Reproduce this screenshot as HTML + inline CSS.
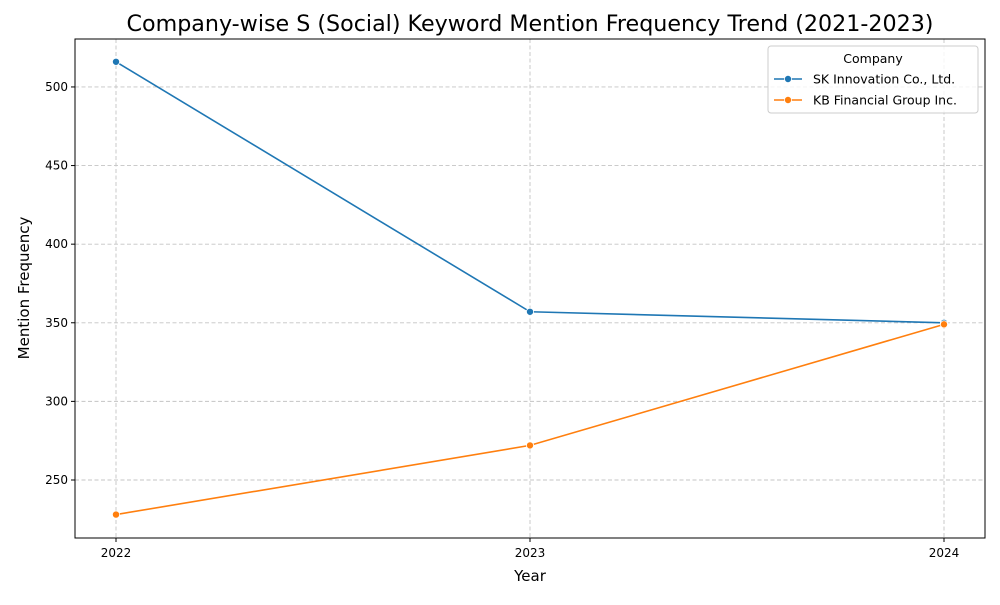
<!DOCTYPE html>
<html><head><meta charset="utf-8"><style>
body{margin:0;background:#fff;font-family:"Liberation Sans","DejaVu Sans",sans-serif}
</style></head><body>
<svg id="chart" width="1000" height="600" xmlns="http://www.w3.org/2000/svg" font-family="DejaVu Sans, Liberation Sans, sans-serif"></svg>
<script>
const years = [2022, 2023, 2024];
const skValues = [516, 357, 350];
const kbValues = [228, 272, 349];
const yTicks = [250, 300, 350, 400, 450, 500];
const seriesNames = ["SK Innovation Co., Ltd.", "KB Financial Group Inc."];

const L=75,R=985,T=39,B=538;
const yMin=213.1,yMax=530.5;
const x=v=>116+(v-2022)*(944-116)/2;
const y=v=>B-(v-yMin)*(B-T)/(yMax-yMin);
const svg=document.getElementById('chart');
const NS='http://www.w3.org/2000/svg';
function mk(tag,attrs,parent){const e=document.createElementNS(NS,tag);for(const k in attrs)e.setAttribute(k,attrs[k]);(parent||svg).appendChild(e);return e;}

const title=mk('text',{x:530,y:31,'text-anchor':'middle','font-size':22.2,fill:'#000'});
title.textContent='Company-wise S (Social) Keyword Mention Frequency Trend (2021-2023)';



const grid=mk('g',{});


years.forEach(v=>{
  mk('line',{x1:x(v),x2:x(v),y1:T,y2:B,stroke:'#c4c4c4','stroke-dasharray':'4,2.5','stroke-width':0.9},grid);
  mk('line',{x1:x(v),x2:x(v),y1:B,y2:B+4,stroke:'#000'},grid);
  const t=mk('text',{x:x(v),y:B+19,'text-anchor':'middle','font-size':12},grid);
  t.textContent=v;
  
  
});
yTicks.forEach(v=>{
  mk('line',{x1:L,x2:R,y1:y(v),y2:y(v),stroke:'#c4c4c4','stroke-dasharray':'4,2.5','stroke-width':0.9},grid);
  mk('line',{x1:L-4,x2:L,y1:y(v),y2:y(v),stroke:'#000'},grid);
  const t=mk('text',{x:L-7,y:y(v)+4,'text-anchor':'end','font-size':12},grid);
  t.textContent=v;
  
  
});
const frame=mk('rect',{x:L,y:T,width:R-L,height:B-T,fill:'none',stroke:'#000','stroke-width':1});



const xt=mk('text',{x:530,y:581,'text-anchor':'middle','font-size':15});
xt.textContent='Year';


const yt=mk('text',{x:29,y:288,'text-anchor':'middle','font-size':15,transform:'rotate(-90 29 288)'});
yt.textContent='Mention Frequency';



const colors=['#1f77b4','#ff7f0e'];
[skValues,kbValues].forEach((vals,i)=>{
  const g=mk('g',{});
  
  
  mk('polyline',{points:vals.map((v,j)=>x(years[j])+','+y(v)).join(' '),fill:'none',stroke:colors[i],'stroke-width':1.6},g);
  vals.forEach((v,j)=>{
    const c=mk('circle',{cx:x(years[j]),cy:y(v),r:3.6,fill:colors[i],stroke:'#fff','stroke-width':0.8},g);
    
    
  });
});

const lg=mk('g',{});


mk('rect',{x:768,y:46,width:210,height:67,rx:3,fill:'#fff','fill-opacity':0.8,stroke:'#ccc'},lg);
const lt=mk('text',{x:873,y:63,'text-anchor':'middle','font-size':12.5},lg);
lt.textContent='Company';
seriesNames.forEach((n,i)=>{
  const yy=79+i*21;
  const e=mk('g',{},lg);
  
  
  mk('line',{x1:774,x2:802,y1:yy,y2:yy,stroke:colors[i],'stroke-width':1.6},e);
  mk('circle',{cx:788,cy:yy,r:3.6,fill:colors[i],stroke:'#fff','stroke-width':0.8},e);
  const t=mk('text',{x:813,y:yy+4.5,'font-size':12.5},e);
  t.textContent=n;
});
</script>
</body></html>
